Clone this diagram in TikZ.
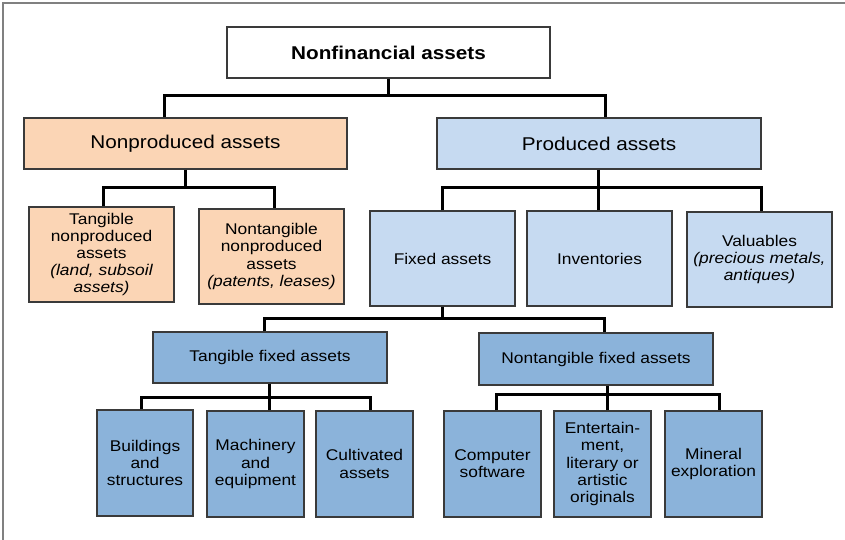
\documentclass[tikz,border=0pt]{standalone}
\usepackage{fontspec}
\setmainfont{Liberation Sans}[FakeStretch=1.12]
\definecolor{peach}{HTML}{FBD5B5}
\definecolor{lblue}{HTML}{C6DAF1}
\definecolor{mblue}{HTML}{8BB3DA}
\definecolor{bord}{HTML}{3A3A3A}
\begin{document}
\begin{tikzpicture}[x=1pt,y=-1pt,
  box/.style={draw=bord,line width=1.1pt,inner sep=0pt,align=center,
    font=\fontsize{15.5}{17.2}\selectfont},
  bigbox/.style={box,font=\fontsize{18.5}{22}\selectfont},
  conn/.style={draw=black,line width=3pt}]
\useasboundingbox (0,0) rectangle (845,540);
\draw[color=gray,line width=1.6pt] (3,540) -- (3,3) -- (845,3);
% level 1
\node[bigbox,fill=white,minimum width=323,minimum height=51,font=\bfseries\fontsize{18.5}{22}\selectfont] (nf) at (388.5,52.5) {Nonfinancial assets};
% level 2
\node[bigbox,fill=peach,minimum width=323,minimum height=51] (np) at (185.5,143.5) {Nonproduced assets};
\node[bigbox,fill=lblue,minimum width=324,minimum height=51] (pa) at (599,143.5) {Produced assets};
% level 3
\node[box,fill=peach,minimum width=145,minimum height=95] (tn) at (101.5,254.5) {Tangible\\nonproduced\\assets\\\itshape(land, subsoil\\\itshape assets)};
\node[box,fill=peach,minimum width=145,minimum height=95] (nn) at (271.5,256.5) {Nontangible\\nonproduced\\assets\\\itshape(patents, leases)};
\node[box,fill=lblue,minimum width=145,minimum height=95] (fa) at (442.5,258.5) {Fixed assets};
\node[box,fill=lblue,minimum width=145,minimum height=95] (inv) at (599.5,258.5) {Inventories};
\node[box,fill=lblue,minimum width=145,minimum height=95] (val) at (759.5,259.5) {Valuables\\\itshape(precious metals,\\\itshape antiques)};
% level 4
\node[box,fill=mblue,minimum width=234,minimum height=51] (tf) at (270,357.5) {Tangible fixed assets};
\node[box,fill=mblue,minimum width=234,minimum height=52] (ntf) at (596,359) {Nontangible fixed assets};
% level 5
\node[box,fill=mblue,minimum width=96,minimum height=106] (bs) at (145,463) {Buildings\\and\\structures};
\node[box,fill=mblue,minimum width=97,minimum height=106] (me) at (255.5,464) {Machinery\\and\\equipment};
\node[box,fill=mblue,minimum width=97,minimum height=106] (ca) at (364.5,464) {Cultivated\\assets};
\node[box,fill=mblue,minimum width=97,minimum height=106] (cs) at (492.5,464) {Computer\\software};
\node[box,fill=mblue,minimum width=97,minimum height=106] (en) at (602.5,464) {Entertain-\\ment,\\literary or\\artistic\\originals};
\node[box,fill=mblue,minimum width=97,minimum height=106] (mi) at (713.5,464) {Mineral\\exploration};
% junctions
\coordinate (j1) at (388.5,96);
\coordinate (j2) at (185.5,187);
\coordinate (j3) at (598,187);
\coordinate (j4) at (442.5,318);
\coordinate (j5) at (269,397);
\coordinate (j6) at (607,394.5);
% connectors
\draw[conn] (nf.south) -- (j1);
\draw[conn] ([xshift=-21.5]np.north) |- (j1) -| ([xshift=6]pa.north);
\draw[conn] (np.south) -- (j2);
\draw[conn] ([xshift=1.5]tn.north) |- (j2) -| ([xshift=2.5]nn.north);
\draw[conn] (pa.south -| j3) -- (j3);
\draw[conn] (fa.north) |- (j3) -| ([xshift=1.5]val.north);
\draw[conn] (inv.north -| j3) -- (j3);
\draw[conn] (fa.south) -- (j4);
\draw[conn] ([xshift=-6]tf.north) |- (j4) -| ([xshift=8]ntf.north);
\draw[conn] (tf.south -| j5) -- (j5);
\draw[conn] ([xshift=-4]bs.north) |- (j5) -| ([xshift=5.5]ca.north);
\draw[conn] (me.north -| j5) -- (j5);
\draw[conn] (ntf.south -| j6) -- (j6);
\draw[conn] ([xshift=3.5]cs.north) |- (j6) -| ([xshift=5.5]mi.north);
\draw[conn] (en.north -| j6) -- (j6);
\end{tikzpicture}
\end{document}
